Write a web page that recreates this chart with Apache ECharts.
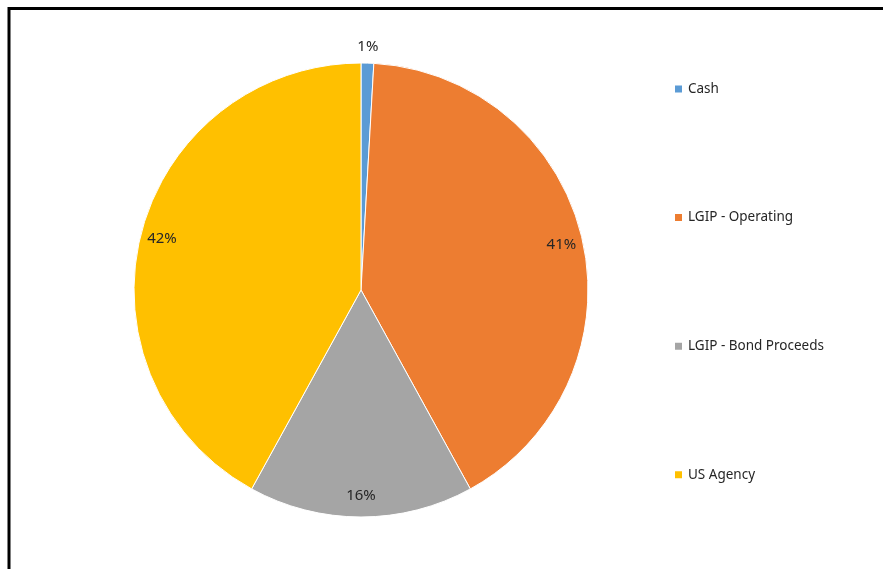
<!DOCTYPE html>
<html>
<head>
<meta charset="utf-8">
<script src="https://cdn.jsdelivr.net/npm/echarts@6/dist/echarts.min.js"></script>
<style>
html,body{margin:0;padding:0;background:#fff;}
#c{width:883px;height:569px;}
</style>
</head>
<body>
<div id="c"></div>
<script>
const categories = ['Cash', 'LGIP - Operating', 'LGIP - Bond Proceeds', 'US Agency'];
const values = [0.9, 41.1, 16.0, 42.0];
const colors = ['#5B9BD5', '#ED7D31', '#A5A5A5', '#FFC000'];

const chart = echarts.init(document.getElementById('c'));
const font = '"Noto Sans", "Open Sans", sans-serif';
const labelStyle = {
  show: true,
  position: 'inside',
  fontFamily: font,
  fontSize: 15,
  color: '#262626',
  formatter: p => Math.round(p.value) + '%'
};
const dataMain = categories.map((n, i) => ({ name: n, value: values[i], itemStyle: { color: colors[i] } }));
// labels for large slices (inside, near the rim)
const dataInner = categories.map((n, i) => ({ name: n, value: values[i], label: { show: i !== 0 } }));
// label for the tiny slice, just outside the rim
const dataOuter = categories.map((n, i) => ({ name: n, value: values[i], label: { show: i === 0 } }));

chart.setOption({
  animation: false,
  backgroundColor: '#fff',
  legend: {
    orient: 'vertical',
    left: 668,
    top: 77,
    itemWidth: 9,
    itemHeight: 9,
    itemGap: 114.6,
    icon: 'rect',
    data: categories,
    textStyle: { fontFamily: font, fontSize: 13.5, color: '#262626' },
    selectedMode: false
  },
  graphic: [{
    type: 'polyline',
    shape: { points: [[9, 569], [9, 8.5], [883, 8.5]] },
    style: { stroke: '#000', lineWidth: 3, fill: null },
    silent: true
  }],
  series: [
    {
      type: 'pie',
      center: [361, 290],
      radius: [0, 227],
      startAngle: 90,
      clockwise: true,
      label: { show: false },
      labelLine: { show: false },
      itemStyle: { borderColor: '#fff', borderWidth: 1 },
      emphasis: { disabled: true },
      data: dataMain,
      silent: true
    },
    {
      type: 'pie',
      center: [361, 290],
      radius: [176, 229],
      startAngle: 90,
      clockwise: true,
      itemStyle: { color: 'rgba(0,0,0,0)' },
      label: labelStyle,
      emphasis: { disabled: true },
      data: dataInner,
      silent: true
    },
    {
      type: 'pie',
      center: [361, 290],
      radius: [230, 250],
      startAngle: 90,
      clockwise: true,
      itemStyle: { color: 'rgba(0,0,0,0)' },
      label: labelStyle,
      emphasis: { disabled: true },
      data: dataOuter,
      silent: true
    }
  ]
});
</script>
</body>
</html>
